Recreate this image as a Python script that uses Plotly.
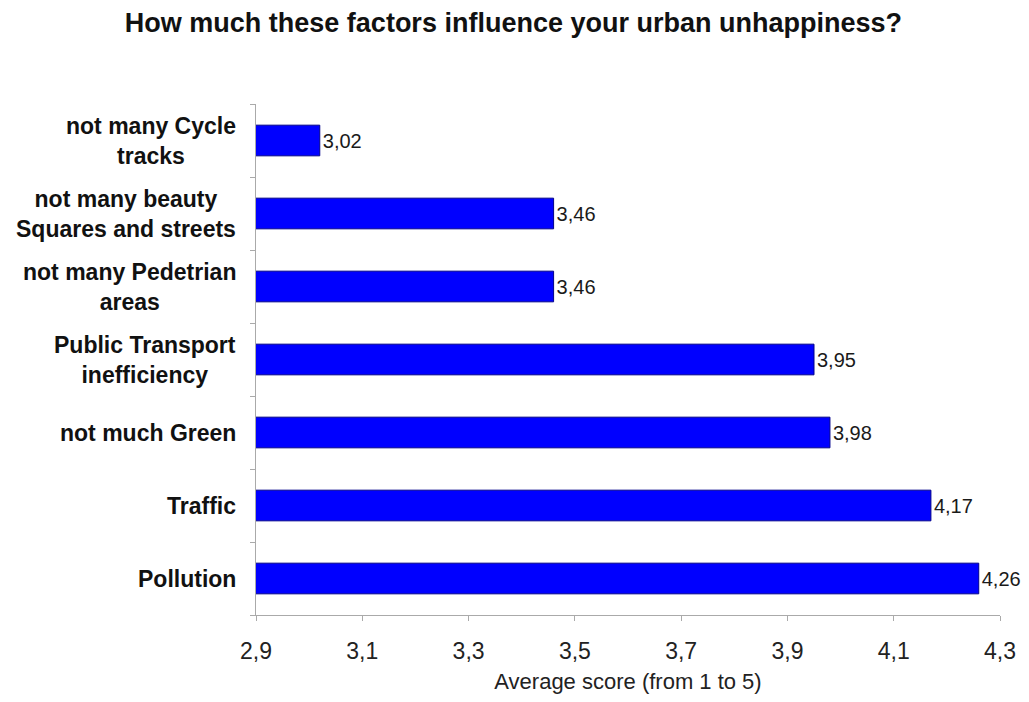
import plotly.graph_objects as go

categories = ["Pollution", "Traffic", "not much Green", "Public Transport<br>inefficiency",
              "not many Pedetrian<br>areas", "not many beauty<br>Squares and streets",
              "not many Cycle<br>tracks"]
values = [4.26, 4.17, 3.98, 3.95, 3.46, 3.46, 3.02]
x_ticks = [2.9, 3.1, 3.3, 3.5, 3.7, 3.9, 4.1, 4.3]

FONT = "Liberation Sans, Arial"

fig = go.Figure()
fig.add_trace(go.Bar(
    x=values, y=categories, orientation="h",
    marker=dict(color="#0000FF", line=dict(color="#00008B", width=1)),
    texttemplate="%{x:.2f}", textposition="outside", cliponaxis=False,
    textfont=dict(family=FONT, size=20, color="#1a1a1a"),
    width=0.42,
))

for c in categories:
    fig.add_annotation(x=0, xref="paper", y=c, yref="y", text="<b>" + c + "</b>",
                       showarrow=False, xanchor="right", align="center", xshift=-18,
                       font=dict(family=FONT, size=23, color="#111"))

fig.update_layout(
    width=1021, height=686,
    separators=",.",
    paper_bgcolor="white", plot_bgcolor="white",
    margin=dict(l=248, r=29, t=96, b=79, autoexpand=False),
    title=dict(text="<b>How much these factors influence your urban unhappiness?</b>",
               x=0.495, xanchor="center", y=1 - 15 / 686, yanchor="middle",
               font=dict(family=FONT, size=27, color="#111")),
    showlegend=False,
    xaxis=dict(range=[2.9, 4.3], tickvals=x_ticks, tickformat=".1f",
               showgrid=False, zeroline=False, showline=True, linecolor="#aaaaaa",
               linewidth=1, ticks="outside", ticklen=5, tickcolor="#aaaaaa",
               ticklabelstandoff=10,
               tickfont=dict(family=FONT, size=23, color="#222"),
               title=dict(text="Average score (from 1 to 5)", standoff=23,
                          font=dict(family=FONT, size=22, color="#222"))),
    yaxis=dict(type="category", categoryorder="array", categoryarray=categories,
               showticklabels=False, showgrid=False, showline=True, linecolor="#aaaaaa",
               linewidth=1, ticks="outside", ticklen=5, tickcolor="#aaaaaa",
               tickson="boundaries"),
)

fig.write_html("out.html")
